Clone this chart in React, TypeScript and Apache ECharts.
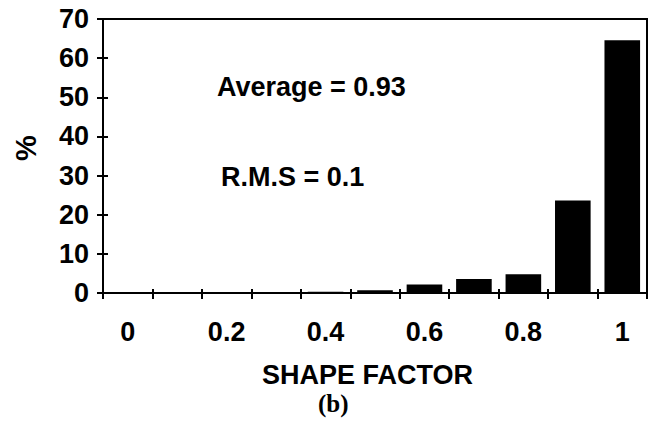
import React, { useEffect, useRef } from "react";
import * as echarts from "echarts";

const categories = ["0", "0.1", "0.2", "0.3", "0.4", "0.5", "0.6", "0.7", "0.8", "0.9", "1"];
const percents = [0.2, 0.1, 0.1, 0.1, 0.3, 0.7, 2.2, 3.6, 4.8, 23.6, 64.6];
const yTicks = [0, 10, 20, 30, 40, 50, 60, 70];
const avgText = "Average = 0.93";
const rmsText = "R.M.S = 0.1";
const xTitle = "SHAPE FACTOR";
const yTitle = "%";
const caption = "(b)";

const FONT = "Liberation Sans, Arial, sans-serif";

export default function App() {
  const ref = useRef<HTMLDivElement>(null);
  useEffect(() => {
    if (!ref.current) return;
    const chart = echarts.init(ref.current, null, { renderer: "svg" });
    const labelStyle = { color: "#000", fontFamily: FONT, fontWeight: "bold" as const, fontSize: 27 };
    chart.setOption({
      animation: false,
      backgroundColor: "#fff",
      grid: { left: 103, right: 3, top: 19, bottom: 135, show: true, borderColor: "#000", borderWidth: 2 },
      xAxis: [
        {
          type: "category",
          data: categories,
          boundaryGap: true,
          axisLine: { lineStyle: { color: "#000", width: 2 } },
          axisTick: { show: true, length: 6, lineStyle: { color: "#000", width: 2 }, interval: 0 },
          axisLabel: { ...labelStyle, margin: 25, interval: 1 },
        },
        {
          type: "category",
          data: categories,
          boundaryGap: true,
          position: "bottom",
          axisLine: { show: false },
          axisTick: { show: true, inside: true, length: 4, lineStyle: { color: "#000", width: 2 }, interval: 0 },
          axisLabel: { show: false },
        },
      ],
      yAxis: [
        {
          type: "value",
          min: 0,
          max: 70,
          interval: 10,
          axisLine: { show: true, lineStyle: { color: "#000", width: 2 } },
          axisTick: { show: true, length: 6, lineStyle: { color: "#000", width: 2 } },
          splitLine: { show: false },
          axisLabel: { ...labelStyle, margin: 14, formatter: (v: number) => (yTicks.includes(v) ? String(v) : "") },
        },
        {
          type: "value",
          min: 0,
          max: 70,
          interval: 10,
          position: "left",
          axisLine: { show: false },
          axisTick: { show: true, inside: true, length: 5, lineStyle: { color: "#000", width: 2 } },
          splitLine: { show: false },
          axisLabel: { show: false },
        },
      ],
      series: [
        {
          type: "bar",
          data: percents,
          barWidth: "72%",
          itemStyle: { color: "#000" },
        },
      ],
      graphic: [
        { type: "text", left: 217, top: 73, style: { text: avgText, ...labelStyle, fill: "#000" } },
        { type: "text", left: 221, top: 163, style: { text: rmsText, ...labelStyle, fill: "#000" } },
        { type: "text", left: 262, top: 361, style: { text: xTitle, ...labelStyle, fill: "#000" } },
        {
          type: "text",
          x: 26,
          y: 148,
          rotation: Math.PI / 2,
          style: { text: yTitle, ...labelStyle, fontSize: 29, fill: "#000", align: "center", verticalAlign: "middle" },
        },
        {
          type: "text",
          left: 318,
          top: 391,
          style: { text: caption, fill: "#000", fontFamily: "Liberation Serif, Times New Roman, serif", fontWeight: "bold", fontSize: 25 },
        },
      ],
    });
    return () => chart.dispose();
  }, []);
  return <div ref={ref} style={{ width: 650, height: 428, position: "absolute", left: 0, top: 0 }} />;
}
